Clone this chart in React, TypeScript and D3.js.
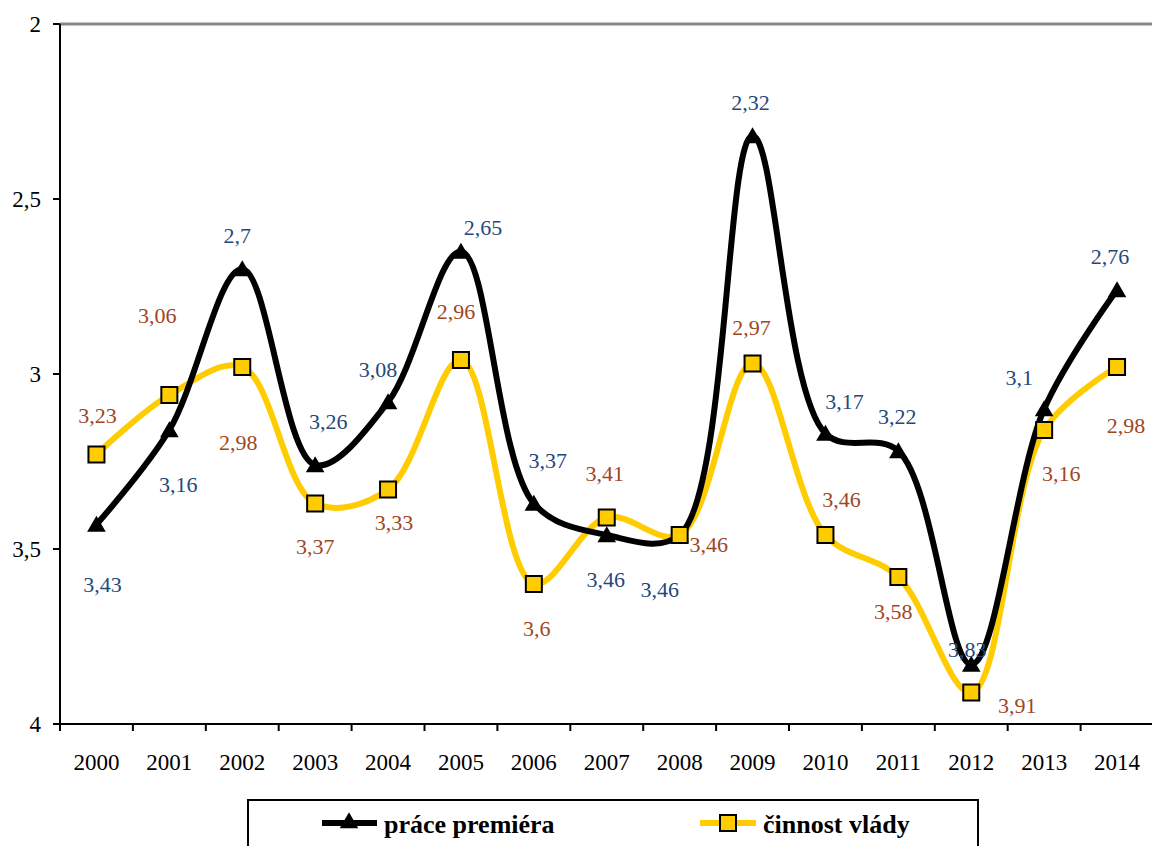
import * as d3 from "d3";

const years = ["2000", "2001", "2002", "2003", "2004", "2005", "2006", "2007", "2008", "2009", "2010", "2011", "2012", "2013", "2014"];
const premier = [3.43, 3.16, 2.7, 3.26, 3.08, 2.65, 3.37, 3.46, 3.46, 2.32, 3.17, 3.22, 3.83, 3.1, 2.76];
const vlada = [3.23, 3.06, 2.98, 3.37, 3.33, 2.96, 3.6, 3.41, 3.46, 2.97, 3.46, 3.58, 3.91, 3.16, 2.98];
const yTicks = [2, 2.5, 3, 3.5, 4];
const seriesNames = ["práce premiéra", "činnost vlády"];

// hand placed label offsets (px) like in the source sheet
const premierLabelOff = [[6, 60], [9, 54], [-5, -34], [13, -44], [-10, -33], [22, -24], [14, -43], [-1, 44], [-20, 54], [-2, -34], [19, -32], [-1, -35], [-4, -15], [-25, -32], [-7, -34]];
const vladaLabelOff = [[1, -39], [-12, -80], [-4, 75], [0, 43], [6, 33], [-5, -49], [3, 44], [-2, -44], [29, 9], [-1, -36], [16, -36], [-5, 34], [46, 13], [17, 43], [9, 58]];

const W = 1152;
const H = 846;
const left = 60;
const top = 24;
const bottom = 724;
const font = "'Liberation Serif', 'Times New Roman', serif";
const blue = "#1f497d";
const brown = "#a0461e";
const yellow = "#ffcc00";

const fmt = (v: number) => String(v).replace(".", ",");

export default function App() {
  const x = d3.scaleBand().domain(years).range([left, left + 15 * 72.9]);
  const y = d3.scaleLinear().domain([2, 4]).range([top, bottom]);
  const cx = (i: number) => (x(years[i]) as number) + x.bandwidth() / 2;

  const line = d3
    .line<number>()
    .x((_, i) => cx(i))
    .y((d) => y(d))
    .curve(d3.curveCatmullRom.alpha(0.5));

  const tri = d3.symbol(d3.symbolTriangle, 150)() as string;

  return (
    <svg width={W} height={H} style={{ position: "absolute", left: 0, top: 0 }}>
      <g style={{ fontFamily: font }}>
        <rect width={W} height={H} fill="#fff" />
        {/* top border of plot area */}
        <line x1={left} x2={W} y1={top} y2={top} stroke="#888" strokeWidth={3} />
        {/* y axis */}
        <line x1={left} x2={left} y1={top} y2={bottom} stroke="#000" strokeWidth={2} />
        {yTicks.map((t) => (
          <g key={t}>
            <line x1={left - 7} x2={left} y1={y(t)} y2={y(t)} stroke="#000" strokeWidth={2} />
            <text x={41} y={y(t)} dy="0.35em" textAnchor="end" fontSize={23}>
              {fmt(t)}
            </text>
          </g>
        ))}
        {/* x axis */}
        <line x1={left} x2={W} y1={bottom} y2={bottom} stroke="#000" strokeWidth={2} />
        {years.map((yr, i) => (
          <g key={yr}>
            <line x1={x(yr)} x2={x(yr)} y1={bottom} y2={bottom + 7} stroke="#000" strokeWidth={2} />
            <text x={cx(i)} y={762} dy="0.35em" textAnchor="middle" fontSize={23}>
              {yr}
            </text>
          </g>
        ))}

        <path d={line(vlada) as string} fill="none" stroke={yellow} strokeWidth={6} />
        <path d={line(premier) as string} fill="none" stroke="#000" strokeWidth={6} />

        {premier.map((v, i) => (
          <path key={"t" + i} d={tri} transform={`translate(${cx(i)},${y(v) + 2})`} fill="#000" />
        ))}
        {vlada.map((v, i) => (
          <rect key={"s" + i} x={cx(i) - 8} y={y(v) - 8} width={16} height={16} fill={yellow} stroke="#000" strokeWidth={2} />
        ))}

        {premier.map((v, i) => (
          <text key={"pl" + i} x={cx(i) + premierLabelOff[i][0]} y={y(v) + premierLabelOff[i][1]} dy="0.35em" textAnchor="middle" fontSize={22} fill={blue}>
            {fmt(v)}
          </text>
        ))}
        {vlada.map((v, i) => (
          <text key={"vl" + i} x={cx(i) + vladaLabelOff[i][0]} y={y(v) + vladaLabelOff[i][1]} dy="0.35em" textAnchor="middle" fontSize={22} fill={brown}>
            {fmt(v)}
          </text>
        ))}

        {/* legend */}
        <rect x={248} y={800} width={730} height={70} fill="#fff" stroke="#000" strokeWidth={2} />
        <line x1={322} x2={377} y1={823} y2={823} stroke="#000" strokeWidth={6} />
        <path d={tri} transform="translate(349,823)" fill="#000" />
        <text x={384} y={824} dy="0.35em" fontSize={26} fontWeight="bold">
          {seriesNames[0]}
        </text>
        <line x1={700} x2={756} y1={823} y2={823} stroke={yellow} strokeWidth={6} />
        <rect x={720} y={815} width={16} height={16} fill={yellow} stroke="#000" strokeWidth={2} />
        <text x={763} y={824} dy="0.35em" fontSize={26} fontWeight="bold">
          {seriesNames[1]}
        </text>
      </g>
    </svg>
  );
}
